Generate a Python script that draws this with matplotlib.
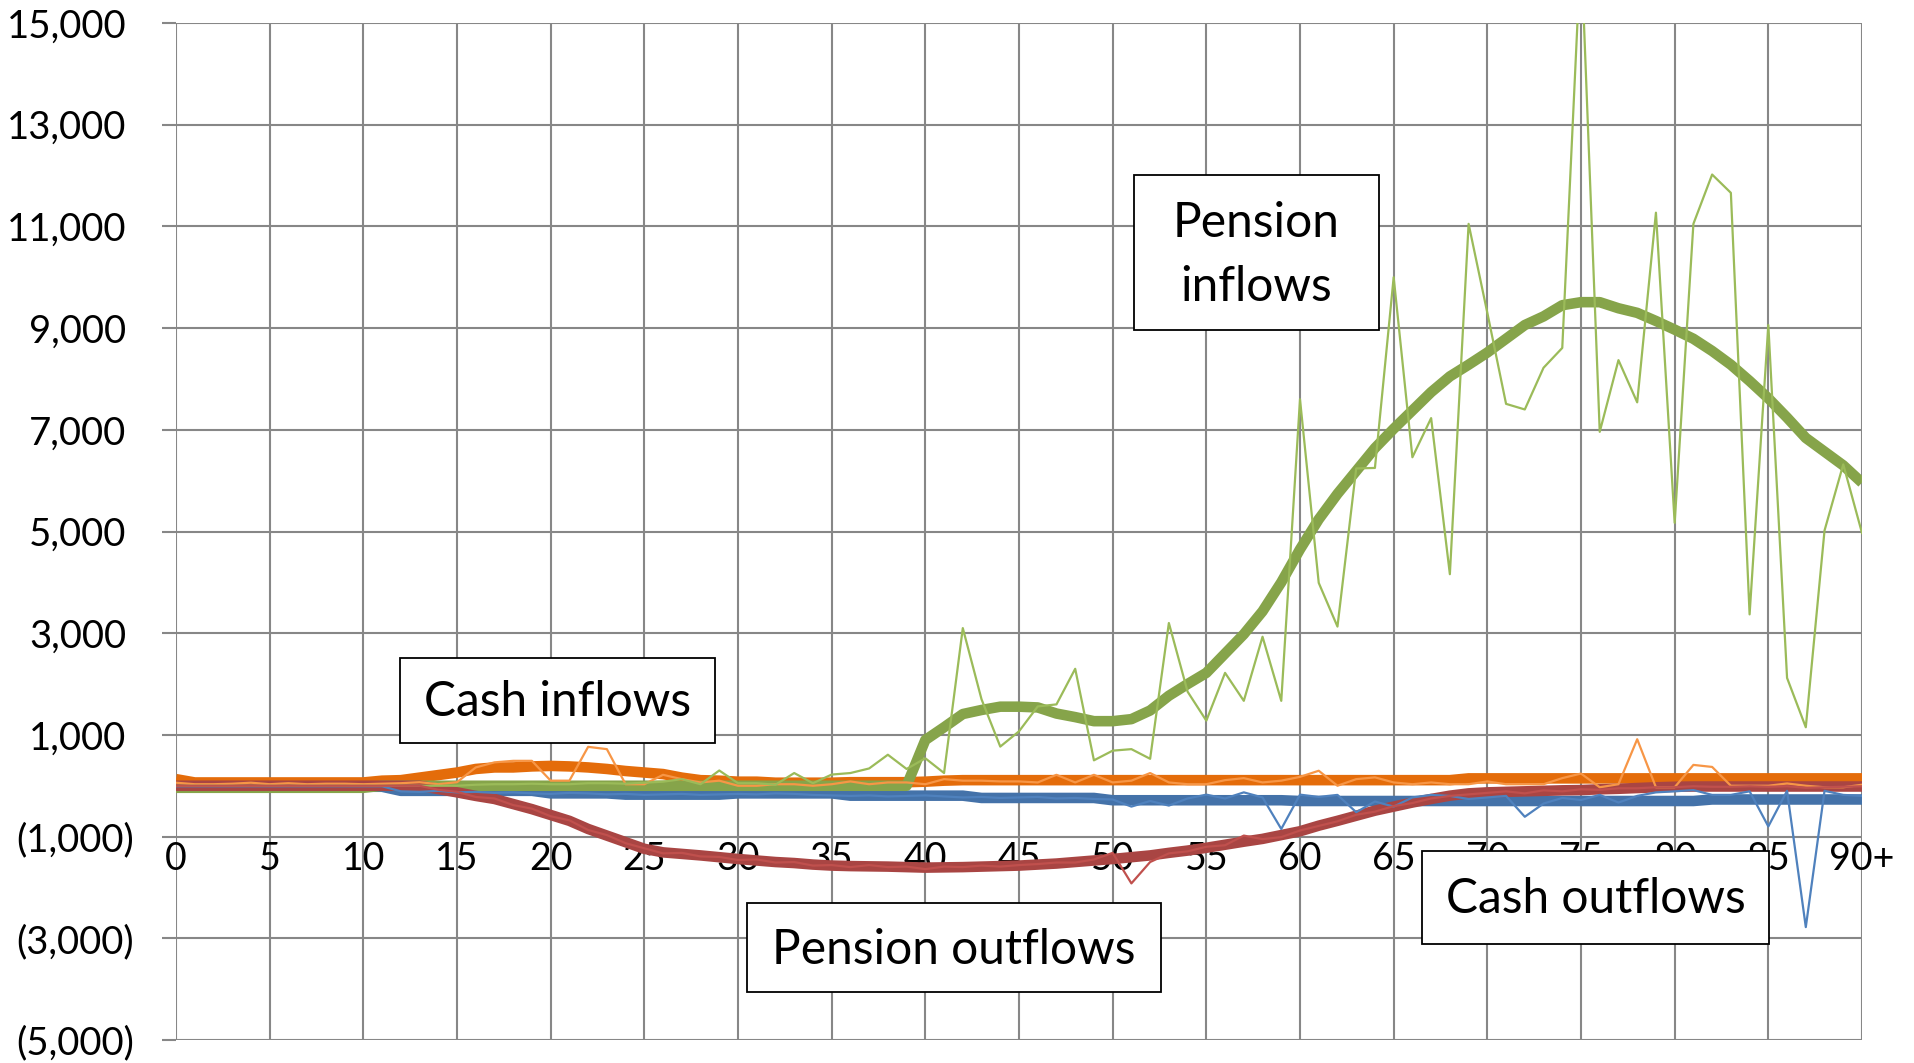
import matplotlib.pyplot as plt
from matplotlib.patches import Rectangle
from matplotlib.transforms import ScaledTranslation

plt.rcParams['font.family'] = ['Lato', 'DejaVu Sans']

# ---- data ----
ages = list(range(91))
age_ticks = list(range(0, 91, 5))
age_labels = [str(a) for a in range(0, 90, 5)] + ['90+']
y_ticks = list(range(-5000, 15001, 2000))

# cash inflows (orange)
cash_in = [60, 30, 30, 40, 60, 30, 50, 30, 40, 40,
           30, 40, 50, 70, 30, 70, 360, 460, 490, 490,
           100, 100, 765, 720, 30, 30, 215, 130, 65, 100,
           0, 0, 30, 30, 0, 30, 85, 30, 65, 65,
           30, 130, 100, 100, 85, 85, 65, 215, 65, 215,
           65, 100, 250, 65, 30, 30, 110, 150, 65, 100,
           175, 295, 0, 130, 165, 65, 30, 65, 30, 30,
           85, 30, 30, 30, 150, 240, -30, 30, 915, -30,
           -30, 410, 370, 0, 0, 0, 45, 0, -30, -30, 20]
cash_in_trend = [130] + [65] * 10 + [100, 110, 160, 210, 260, 330, 360, 360, 380,
                 390, 380, 360, 330, 290, 260, 230, 160, 110, 100,
                 80, 80, 60, 60, 60, 60, 70, 70, 70, 70,
                 80, 100] + [110] * 27 + [145] * 22

# cash outflows (blue)
cash_out = [-10] * 12 + [-110, -120, -100, -130, -120, -140, -130, -150,
            -160, -140, -150, -170, -160, -180, -170, -160, -180, -170,
            -160, -170, -150, -160, -180, -190, -200, -190, -210, -200,
            -190, -210, -230, -220, -240, -230, -220, -250, -240, -260,
            -270, -410, -300, -390, -250, -175, -250, -130, -230, -850,
            -175, -220, -180, -520, -310, -410, -230, -180, -200, -260,
            -230, -200, -610, -350, -240, -280, -180, -330, -200, -130,
            -110, -85, -180, -180, -110, -800, -100, -2780, -100, -180, -200]
cash_out_trend = ([-20] * 12 + [-100] * 8 + [-150] * 4 + [-175] * 6 + [-150] * 6
                  + [-195] * 7 + [-240] * 7 + [-285] * 10 + [-300] * 22 + [-270] * 9)

# pension inflows (green)
pension_in = [0] * 16 + [20, 30, 30, 40, 30, 30, 50, 50, 40, 60,
              80, 130, 30, 300, 50, 50, 20, 250, 50, 220,
              250, 340, 610, 330, 540, 250, 3100, 1700, 770, 1070,
              1560, 1600, 2300, 500, 690, 720, 530, 3200, 1850, 1280,
              2220, 1670, 2930, 1670, 7600, 3990, 3130, 6240, 6250, 10000,
              6460, 7230, 4160, 11050, 9300, 7510, 7400, 8220, 8610, 16500,
              6960, 8370, 7540, 11270, 5170, 11050, 12020, 11660, 3370, 9060,
              2120, 1150, 5020, 6320, 4970]
pension_in_trend = [-40] * 11 + [0] * 29 + [900, 1150, 1410, 1490, 1555, 1555, 1540, 1420, 1350, 1270,
                    1270, 1310, 1480, 1770, 2000, 2220, 2600, 2980, 3430, 4000,
                    4650, 5240, 5740, 6190, 6640, 7020, 7380, 7740, 8050, 8280,
                    8520, 8790, 9060, 9230, 9450, 9510, 9510, 9390, 9300, 9140,
                    8970, 8790, 8550, 8280, 7960, 7620, 7240, 6840, 6570, 6300, 5960]

# pension outflows (red)
pension_out = [0] * 14 + [-80, -120, -220, -250, -380, -450,
               -600, -680, -870, -970, -1130, -1230, -1330, -1320, -1390, -1400,
               -1460, -1450, -1510, -1500, -1570, -1560, -1600, -1560, -1600, -1590,
               -1640, -1590, -1600, -1570, -1590, -1560, -1540, -1510, -1510, -1450,
               -1320, -1920, -1500, -1330, -1290, -1200, -1170, -980, -1050, -1010,
               -880, -790, -700, -570, -510, -400, -340, -250, -200, -170,
               -140, -110, -150, -90, -110, -70, -80, -50, -50, -30,
               -30, -10, -20, -20, -10, -20, -10, -40, -30, -20, -10]
pension_out_trend = [0] * 14 + [-65, -130, -200, -260, -360, -460,
                     -575, -690, -850, -980, -1110, -1240, -1310, -1340, -1370, -1405,
                     -1440, -1470, -1500, -1520, -1550, -1570, -1580, -1585, -1590, -1600,
                     -1610, -1605, -1600, -1590, -1580, -1570, -1550, -1530, -1500, -1470,
                     -1440, -1405, -1370, -1320, -1275, -1220, -1160, -1100, -1045, -970,
                     -895, -785, -690, -590, -490, -410, -330, -260, -195, -150,
                     -130, -120, -110, -100, -90, -85, -70, -60, -45, -30,
                     -20] + [-15] * 10

# ---- figure ----
W, H = 1914, 1063
fig = plt.figure(figsize=(W / 100, H / 100), dpi=100)
ax = fig.add_axes([176 / W, (H - 1040) / H, (1862 - 176) / W, (1040 - 23) / H])

grid_c = '#878787'
thick = dict(lw=7.6, solid_joinstyle='round', solid_capstyle='butt')
thin = dict(lw=1.6, solid_joinstyle='round')

ax.plot(ages, cash_out_trend, color='#4472A9', zorder=2, **thick)
ax.plot(ages, cash_in_trend, color='#E46C0A', zorder=2.1, **thick)
ax.plot(ages, pension_in_trend, color='#86A44A', zorder=2.2, **thick)
ax.plot(ages, pension_out_trend, color='#A94543', zorder=2.3, **thick)

ax.plot(ages, cash_out, color='#4F81BD', zorder=3, **thin)
ax.plot(ages, cash_in, color='#F79646', zorder=3, **thin)
ax.plot(ages, pension_in, color='#9BBB59', zorder=3, **thin)
ax.plot(ages, pension_out, color='#C0504D', zorder=3, **thin)

ax.set_xlim(0, 90)
ax.set_ylim(-5000, 15000)
ax.set_xticks(age_ticks)
ax.set_xticklabels(age_labels)
ax.set_yticks(y_ticks)
ax.set_yticklabels([f'{v:,}' if v >= 0 else f'({-v:,})' for v in y_ticks])

ax.grid(True, color=grid_c, lw=1.5)
for s in ax.spines.values():
    s.set_visible(False)
ax.spines['bottom'].set_position(('data', -1000))

ax.tick_params(axis='y', length=10, width=1.5, color=grid_c, pad=20, labelsize=27.5)
ax.tick_params(axis='x', length=0, pad=3.5, labelsize=27)

# positive labels sit a bit further left (Excel number format)
for lab, v in zip(ax.get_yticklabels(), y_ticks):
    if v >= 0:
        lab.set_transform(lab.get_transform() + ScaledTranslation(-8 / 100, 0, fig.dpi_scale_trans))


def add_box(x0, y0, x1, y1, lines, baselines):
    fig.add_artist(Rectangle((x0 / W, 1 - y1 / H), (x1 - x0) / W, (y1 - y0) / H,
                             transform=fig.transFigure, fc='white', ec='black',
                             lw=1.3, zorder=5))
    for txt, b in zip(lines, baselines):
        fig.text((x0 + x1) / 2 / W, 1 - b / H, txt, ha='center', va='baseline',
                 fontsize=34.5, zorder=6)


add_box(400, 658, 715, 743, ['Cash inflows'], [716])
add_box(1134, 175, 1379, 330, ['Pension', 'inflows'], [237, 301])
add_box(747, 903, 1161, 992, ['Pension outflows'], [964])
add_box(1422, 851, 1769, 944, ['Cash outflows'], [913])

fig.savefig('out.png', dpi=100)
